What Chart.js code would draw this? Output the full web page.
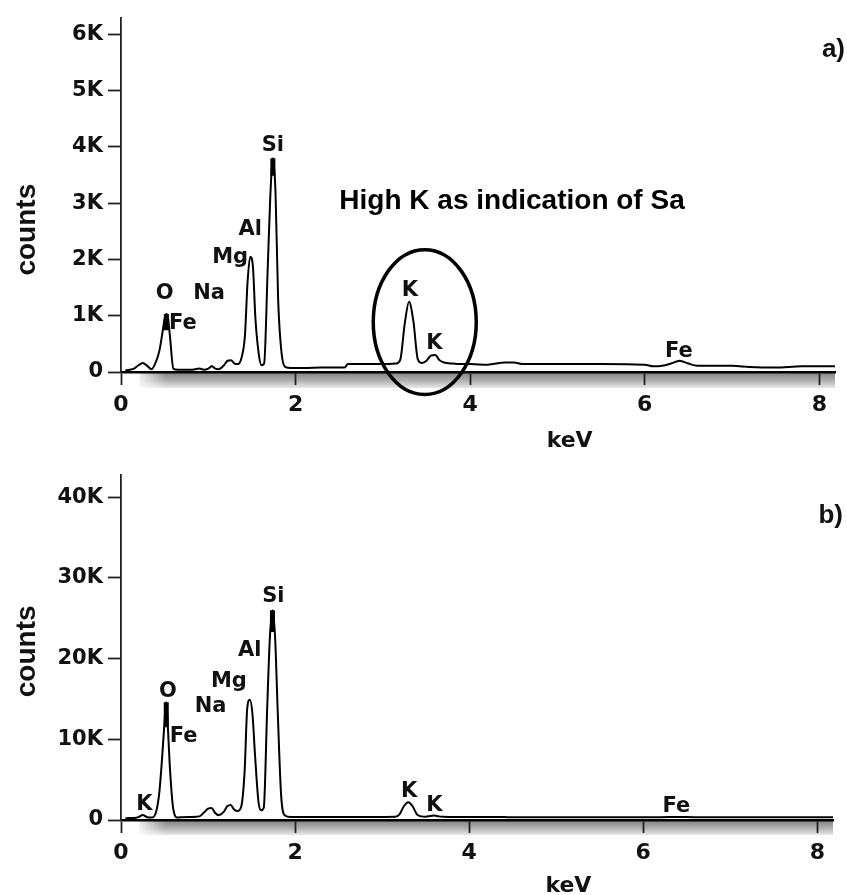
<!DOCTYPE html>
<html>
<head>
<meta charset="utf-8">
<script src="https://cdn.jsdelivr.net/npm/chart.js@4.4.1/dist/chart.umd.min.js"></script>
<style>
  html, body { margin: 0; padding: 0; background: #fff; }
  canvas { position: absolute; left: 0; }
  #chartA { top: 0; }
  #chartB { top: 450px; }
</style>
</head>
<body>
<canvas id="chartA" width="847" height="450"></canvas>
<canvas id="chartB" width="847" height="445"></canvas>
<script>
// energia em keV (mesma grade para os dois espectros)
var energia = [
  0.05, 0.1, 0.15, 0.2, 0.25, 0.3, 0.35, 0.4, 0.44, 0.48,
  0.5, 0.52, 0.54, 0.56, 0.6, 0.65, 0.7, 0.8, 0.9, 0.95,
  1.0, 1.04, 1.08, 1.12, 1.18, 1.22, 1.26, 1.3, 1.34, 1.38,
  1.42, 1.45, 1.48, 1.51, 1.54, 1.58, 1.61, 1.64, 1.68, 1.71,
  1.74, 1.77, 1.8, 1.84, 1.88, 1.95, 2.1, 2.3, 2.5, 2.56,
  2.6, 2.8, 3.0, 3.15, 3.2, 3.25, 3.3, 3.35, 3.4, 3.45,
  3.5, 3.55, 3.6, 3.65, 3.7, 3.8, 3.9, 4.0, 4.2, 4.4,
  4.5, 4.6, 5.0, 5.5, 6.0, 6.1, 6.2, 6.3, 6.4, 6.5,
  6.6, 7.0, 7.2, 7.5, 7.8, 8.0, 8.18
];

// contagens - espectro a)
var contagensA = [
  30, 40, 60, 120, 160, 110, 50, 180, 380, 750,
  950, 1030, 950, 650, 60, 40, 40, 40, 60, 40,
  60, 100, 60, 50, 120, 200, 210, 150, 140, 250,
  650, 1600, 2050, 1900, 950, 300, 120, 150, 1800, 3100,
  3800, 3200, 1300, 330, 90, 70, 70, 80, 80, 80,
  140, 140, 140, 150, 220, 850, 1250, 900, 230, 160,
  200, 290, 300, 210, 170, 150, 140, 140, 130, 170,
  170, 140, 140, 140, 130, 100, 110, 150, 200, 150,
  110, 110, 90, 80, 100, 100, 100
];

// contagens - espectro b)
var contagensB = [
  200, 250, 250, 350, 620, 350, 300, 900, 3400, 8900,
  12200, 14600, 11200, 6800, 1400, 300, 350, 380, 450, 900,
  1400, 1500, 900, 600, 1000, 1700, 1850, 1300, 1100, 1600,
  6000, 13800, 14900, 13200, 8000, 2200, 1200, 1500, 14000, 22500,
  26000, 22700, 13600, 3000, 600, 380, 380, 380, 380, 380,
  380, 380, 380, 400, 700, 1700, 2200, 1700, 700, 450,
  400, 500, 550, 450, 400, 380, 370, 360, 360, 360,
  350, 350, 350, 350, 350, 350, 350, 360, 380, 360,
  350, 350, 350, 350, 350, 350, 350
];

// barras grossas no topo dos picos (O e Si)
var marcaKeV = [0.52, 1.74];
var marcaTopoA = [1030, 3800];
var marcaBaseA = [740, 3490];
var marcaTopoB = [14600, 26000];
var marcaBaseB = [11500, 23300];

var ticksX = [0, 2, 4, 6, 8];
var ticksYA = [0, 1000, 2000, 3000, 4000, 5000, 6000];
var ticksYB = [0, 10000, 20000, 30000, 40000];

// rotulos dos elementos
var rotulosA = ['Si', 'Al', 'Mg', 'O', 'Na', 'Fe', 'K', 'K', 'Fe'];
var rotulosAkeV = [1.74, 1.48, 1.25, 0.50, 1.01, 0.71, 3.31, 3.59, 6.39];
var rotulosAcont = [3930, 2440, 1930, 1300, 1300, 770, 1350, 400, 260];

var rotulosB = ['Si', 'Al', 'Mg', 'Na', 'O', 'Fe', 'K', 'K', 'K', 'Fe'];
var rotulosBkeV = [1.75, 1.48, 1.24, 1.03, 0.54, 0.72, 0.27, 3.31, 3.60, 6.38];
var rotulosBcont = [27000, 20300, 16500, 13400, 15200, 9700, 1240, 2850, 1100, 1000];

var FONTE_EIXO = 'DejaVu Sans';
var FONTE_TEXTO = '"Liberation Sans", Arial, sans-serif';

function montarPontos(xs, ys) {
    return xs.map(function (x, i) { return { x: x, y: ys[i] }; });
}

function montarMarcas(xs, topo, base) {
    var pts = [];
    xs.forEach(function (x, i) {
        if (i > 0) pts.push({ x: (xs[i - 1] + x) / 2, y: null });
        pts.push({ x: x, y: topo[i] });
        pts.push({ x: x, y: base[i] });
    });
    return pts;
}

function formatarK(v) {
    return v === 0 ? '0' : (v / 1000) + 'K';
}

var decoracaoEDS = {
    id: 'decoracaoEDS',
    beforeDraw: function (chart, args, opts) {
        var ctx = chart.ctx;
        var ca = chart.chartArea;
        var topo = ca.bottom + 1;
        var alt = opts.faixa;
        ctx.save();
        var g = ctx.createLinearGradient(0, topo, 0, topo + alt);
        g.addColorStop(0, '#858585');
        g.addColorStop(0.5, '#b0b0b0');
        g.addColorStop(1, '#e8e8e8');
        ctx.fillStyle = g;
        ctx.fillRect(ca.left + 18, topo, ca.right - ca.left - 18, alt);
        var h = ctx.createLinearGradient(ca.left + 18, 0, ca.left + 45, 0);
        h.addColorStop(0, 'rgba(255,255,255,0.85)');
        h.addColorStop(1, 'rgba(255,255,255,0)');
        ctx.fillStyle = h;
        ctx.fillRect(ca.left + 18, topo, 27, alt);
        ctx.restore();
    },
    afterDraw: function (chart, args, opts) {
        var ctx = chart.ctx;
        var ca = chart.chartArea;
        var xs = chart.scales.x;
        var ys = chart.scales.y;
        ctx.save();
        ctx.fillStyle = '#111';

        // rotulos dos picos
        ctx.font = 'bold 21px ' + FONTE_EIXO;
        ctx.textAlign = 'center';
        ctx.textBaseline = 'alphabetic';
        opts.rotulos.forEach(function (t, i) {
            ctx.fillText(t, xs.getPixelForValue(opts.rotKeV[i]), ys.getPixelForValue(opts.rotCont[i]));
        });

        // keV
        ctx.font = 'bold 22px ' + FONTE_EIXO;
        ctx.fillText('keV', xs.getPixelForValue(5.14), ca.bottom + opts.keVdy);

        // counts
        ctx.save();
        ctx.font = 'bold 28px ' + FONTE_TEXTO;
        ctx.translate(35, ys.getPixelForValue(opts.countsY));
        ctx.rotate(-Math.PI / 2);
        ctx.fillText('counts', 0, 0);
        ctx.restore();

        // letra do painel
        ctx.font = 'bold 26px ' + FONTE_TEXTO;
        ctx.textAlign = 'right';
        ctx.fillText(opts.painel, opts.painelX, opts.painelY);

        if (opts.elipse) {
            var e = opts.elipse;
            var x0 = xs.getPixelForValue(e[0]), x1 = xs.getPixelForValue(e[1]);
            var y0 = ys.getPixelForValue(e[2]), y1 = ys.getPixelForValue(e[3]);
            ctx.beginPath();
            ctx.ellipse((x0 + x1) / 2, (y0 + y1) / 2, Math.abs(x1 - x0) / 2, Math.abs(y1 - y0) / 2, 0, 0, Math.PI * 2);
            ctx.lineWidth = 3.5;
            ctx.strokeStyle = '#000';
            ctx.stroke();
        }
        if (opts.nota) {
            ctx.font = 'bold 28px ' + FONTE_TEXTO;
            ctx.textAlign = 'center';
            ctx.fillStyle = '#000';
            ctx.fillText(opts.nota, xs.getPixelForValue(opts.notaKeV), ys.getPixelForValue(opts.notaCont));
        }
        ctx.restore();
    }
};

function criarGrafico(id, cfg) {
    var ctx = document.getElementById(id).getContext('2d');
    return new Chart(ctx, {
        type: 'line',
        data: {
            datasets: [
                {
                    data: montarPontos(energia, cfg.contagens),
                    borderColor: '#000',
                    borderWidth: 2,
                    pointRadius: 0,
                    cubicInterpolationMode: 'monotone',
                    fill: false
                },
                {
                    data: montarMarcas(marcaKeV, cfg.marcaTopo, cfg.marcaBase),
                    borderColor: '#000',
                    borderWidth: 5,
                    borderCapStyle: 'butt',
                    pointRadius: 0,
                    spanGaps: false,
                    fill: false
                }
            ]
        },
        plugins: [decoracaoEDS],
        options: {
            responsive: false,
            animation: false,
            layout: {
                padding: { left: 0, right: cfg.padDir, top: cfg.padTopo, bottom: 0 }
            },
            scales: {
                x: {
                    type: 'linear',
                    min: 0,
                    max: 8.18,
                    afterBuildTicks: function (s) { s.ticks = ticksX.map(function (v) { return { value: v }; }); },
                    afterFit: function (s) { s.height = cfg.altX; },
                    border: { display: true, color: '#000', width: 2.6 },
                    grid: { drawOnChartArea: false, drawTicks: true, tickLength: 13, tickColor: '#222', tickWidth: 1.8 },
                    ticks: {
                        color: '#111',
                        padding: 7,
                        maxRotation: 0,
                        font: { family: FONTE_EIXO, size: 22, weight: 'bold' }
                    }
                },
                y: {
                    type: 'linear',
                    min: 0,
                    max: cfg.maxY,
                    afterBuildTicks: function (s) { s.ticks = cfg.ticksY.map(function (v) { return { value: v }; }); },
                    afterFit: function (s) { s.width = 121; },
                    border: { display: true, color: '#222', width: 1.8 },
                    grid: { drawOnChartArea: false, drawTicks: true, tickLength: 13, tickColor: '#222', tickWidth: 1.8 },
                    ticks: {
                        color: '#111',
                        padding: 5,
                        callback: formatarK,
                        font: { family: FONTE_EIXO, size: 21, weight: 'bold' }
                    }
                }
            },
            plugins: {
                legend: { display: false },
                tooltip: { enabled: false },
                decoracaoEDS: cfg.decoracao
            }
        }
    });
}

criarGrafico('chartA', {
    contagens: contagensA,
    marcaTopo: marcaTopoA,
    marcaBase: marcaBaseA,
    maxY: 6300,
    ticksY: ticksYA,
    padTopo: 13,
    padDir: 12,
    altX: 78,
    decoracao: {
        faixa: 15,
        rotulos: rotulosA, rotKeV: rotulosAkeV, rotCont: rotulosAcont,
        keVdy: 75,
        countsY: 2530,
        painel: 'a)', painelX: 845, painelY: 57,
        elipse: [2.89, 4.07, 2175, -400],
        nota: 'High K as indication of Sa', notaKeV: 4.48, notaCont: 2890
    }
});

criarGrafico('chartB', {
    contagens: contagensB,
    marcaTopo: marcaTopoB,
    marcaBase: marcaBaseB,
    maxY: 42750,
    ticksY: ticksYB,
    padTopo: 25,
    padDir: 14,
    altX: 75,
    decoracao: {
        faixa: 14,
        rotulos: rotulosB, rotKeV: rotulosBkeV, rotCont: rotulosBcont,
        keVdy: 72,
        countsY: 20900,
        painel: 'b)', painelX: 843, painelY: 73
    }
});
</script>
</body>
</html>
